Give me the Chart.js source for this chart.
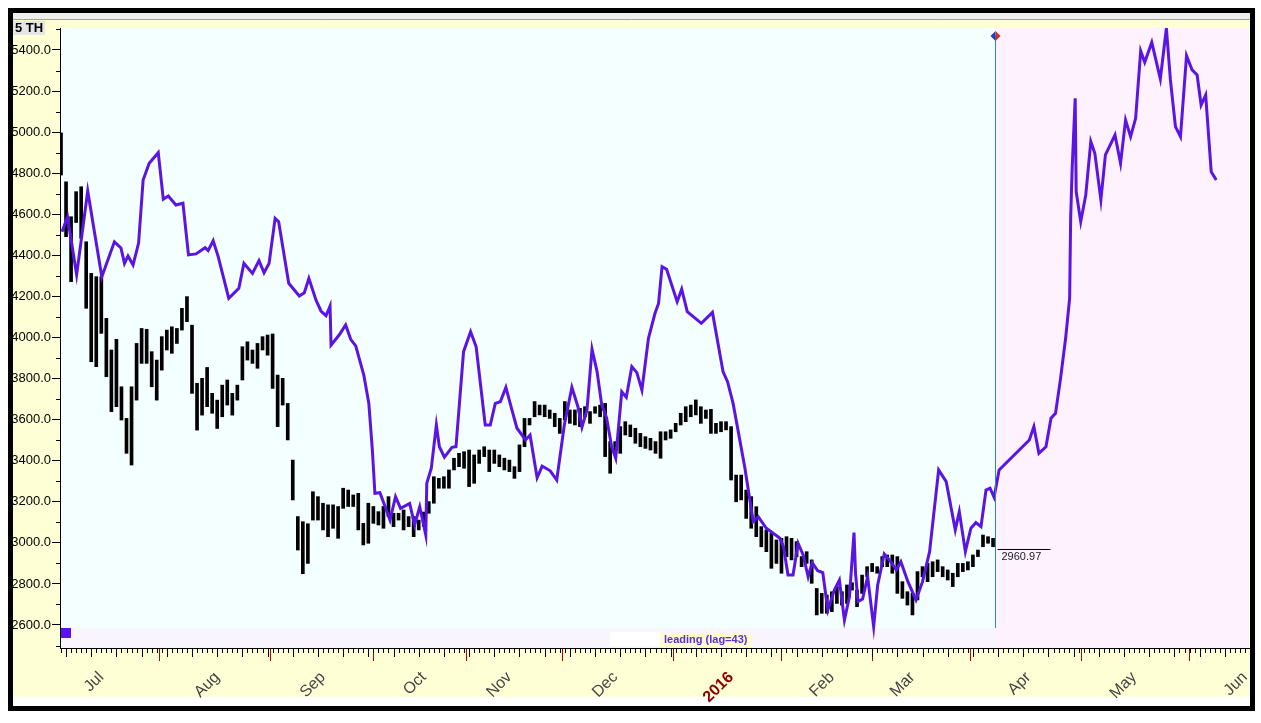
<!DOCTYPE html>
<html>
<head>
<meta charset="utf-8">
<style>
  html, body { margin: 0; padding: 0; background: #fff; }
  #wrap { width: 1261px; height: 723px; }
</style>
<script src="https://cdn.jsdelivr.net/npm/chart.js@4.4.1/dist/chart.umd.min.js"></script>
</head>
<body>
<div id="wrap"><canvas id="chart" width="1261" height="723"></canvas></div>
<script>
// trading-day index, 0 = 1 Jul 2015
const monthDays = [0, 23, 44, 64, 81, 102, 125, 145, 161, 184, 205, 227];
const monthLabels = ['Jul', 'Aug', 'Sep', 'Oct', 'Nov', 'Dec', '2016', 'Feb', 'Mar', 'Apr', 'May', 'Jun'];
const yTickValues = [2600, 2800, 3000, 3200, 3400, 3600, 3800, 4000, 4200, 4400, 4600, 4800, 5000, 5200, 5400];

// price bars (high / low), one per trading day starting at barStartDay
const barStartDay = -8;
const barHighs = [
  4996, 4758, 4588, 4710, 4734, 4466, 4312, 4296, 4296, 4093,
  3939, 3991, 3760, 3606, 3760, 3971, 4044, 4040, 3931, 3890,
  4004, 4036, 4052, 4044, 4142, 4199, 4060, 3777, 3801, 3854,
  3728, 3695, 3768, 3793, 3728, 3768, 3955, 3979, 3939, 3971,
  4004, 4012, 4017, 3817, 3801, 3679, 3403, 3128, 3103, 3093,
  3249, 3225, 3193, 3185, 3185, 3177, 3266, 3257, 3233, 3241,
  3095, 3193, 3177, 3152, 3177, 3225, 3144, 3144, 3160, 3128,
  3128, 3111, 3150, 3201, 3322, 3314, 3322, 3355, 3412, 3436,
  3444, 3452, 3428, 3452, 3468, 3452, 3452, 3428, 3412, 3403,
  3371, 3477, 3606, 3606, 3688, 3671, 3671, 3647, 3631, 3606,
  3688, 3647, 3647, 3655, 3663, 3639, 3663, 3671, 3679, 3493,
  3493, 3566, 3590, 3574, 3558, 3533, 3517, 3509, 3493, 3541,
  3541, 3550, 3582, 3631, 3663, 3671, 3696, 3663, 3647, 3650,
  3582, 3590, 3590, 3566, 3330, 3330, 3257, 3225, 3176, 3079,
  3063, 3046, 3014, 3022, 3030, 3022, 3006, 2933, 2957, 2917,
  2778, 2754, 2746, 2762, 2787, 2762, 2795, 2806, 2770, 2843,
  2884, 2900, 2884, 2933, 2941, 2941, 2933, 2811, 2762, 2754,
  2860, 2884, 2900, 2908, 2917, 2884, 2868, 2852, 2900, 2900,
  2908, 2941, 2965, 3038, 3030, 3022
];
const barLows = [
  4791, 4491, 4272, 4560, 4483, 4142, 3882, 3858, 4020, 3809,
  3639, 3663, 3598, 3436, 3379, 3695, 3874, 3874, 3760, 3695,
  3841, 3939, 3923, 3971, 4036, 4077, 3728, 3549, 3622, 3663,
  3631, 3557, 3614, 3671, 3622, 3695, 3793, 3890, 3874, 3850,
  3939, 3914, 3752, 3566, 3671, 3501, 3209, 2965, 2850, 2900,
  3111, 3111, 3063, 3030, 3071, 3022, 3168, 3177, 3177, 3063,
  2990, 2998, 3095, 3087, 3071, 3128, 3079, 3111, 3063, 3079,
  3030, 3063, 3080, 3144, 3193, 3266, 3266, 3266, 3355, 3371,
  3363, 3274, 3290, 3387, 3420, 3347, 3387, 3371, 3355, 3347,
  3314, 3347, 3468, 3574, 3614, 3623, 3614, 3606, 3566, 3533,
  3598, 3582, 3574, 3566, 3614, 3582, 3631, 3614, 3420, 3339,
  3436, 3436, 3525, 3517, 3485, 3468, 3460, 3452, 3436, 3412,
  3501, 3509, 3541, 3574, 3590, 3614, 3623, 3582, 3606, 3533,
  3533, 3541, 3550, 3306, 3200, 3209, 3119, 3071, 3030, 2981,
  2957, 2876, 2900, 2852, 2933, 2917, 2933, 2884, 2900, 2803,
  2649, 2657, 2657, 2665, 2705, 2697, 2705, 2770, 2689, 2754,
  2835, 2860, 2852, 2884, 2884, 2852, 2754, 2730, 2697, 2649,
  2722, 2835, 2811, 2835, 2860, 2835, 2819, 2787, 2835, 2860,
  2868, 2884, 2933, 2981, 2998, 2981
];
const lastClose = 2960.97;

// leading line (lag=43)
const leadDays = [
  -7.8, -6.7, -4.9, -2.7, 0.1, 2.6, 3.9, 4.6, 5.3, 6.3,
  7.4, 8.3, 9.5, 11.3, 12.3, 13.3, 14.8, 16.2, 17.3, 18.8,
  20.6, 21.2, 22.2, 23.2, 25.3, 27.3, 28.3, 30.0, 31.3, 32.3,
  33.3, 34.5, 35.2, 37.2, 39.3, 40.3, 41.2, 42.6, 43.6, 44.6,
  45.4, 45.6, 47.2, 48.5, 49.5, 50.5, 52.1, 53.1, 53.8, 54.3,
  55.3, 56.1, 57.3, 58.4, 59.4, 61.2, 62.2, 63.2, 64.4, 64.6,
  65.5, 66.5, 67.1, 68.1, 69.6, 70.4, 71.9, 73.3, 74.4, 76.2,
  77.2, 78.2, 79.2, 80.3, 81.5, 82.5, 84.2, 85.1, 86.5, 87.5,
  89.1, 90.4, 91.9, 93.4, 94.6, 95.4, 96.4, 97.4, 98.4, 99.3,
  100.3, 101.3, 102.1, 103.3, 104.2, 105.3, 106.3, 107.3, 108.6, 109.9,
  110.6, 111.3, 112.2, 114.3, 115.2, 116.3, 119.1, 121.3, 123.4, 124.3,
  125.4, 127.7, 129.4, 130.4, 132.0, 134.7, 135.4, 136.3, 137.3, 138.3,
  139.3, 140.3, 141.1, 142.2, 143.2, 144.2, 145.5, 146.5, 147.5, 148.5,
  149.4, 149.7, 150.2, 151.1, 152.1, 153.3, 154.1, 155.4, 156.4, 157.8,
  158.7, 160.1, 161.7, 163.0, 164.4, 166.2, 167.7, 169.5, 170.3, 171.5,
  172.6, 173.6, 174.6, 175.6, 176.4, 177.2, 178.2, 184.2, 185.1, 186.1,
  187.5, 188.5, 189.4, 190.4, 191.4, 192.2, 192.4, 192.7, 193.3, 193.5,
  194.4, 195.4, 196.4, 197.2, 198.4, 199.3, 201.2, 202.3, 203.3, 204.3,
  205.3, 206.3, 207.1, 208.5, 210.2, 211.4, 212.2, 213.2, 214.2, 215.4,
  216.5, 217.5, 218.3, 219.2, 220.3, 221.3
];
const leadValues = [
  4515, 4587, 4305, 4713, 4296, 4466, 4436, 4361, 4397, 4353,
  4460, 4767, 4848, 4900, 4673, 4689, 4645, 4654, 4402, 4407,
  4437, 4423, 4471, 4394, 4191, 4240, 4361, 4312, 4374, 4315,
  4361, 4580, 4564, 4264, 4202, 4218, 4288, 4183, 4129, 4106,
  4153, 3963, 4012, 4061, 3991, 3959, 3817, 3679, 3452, 3241,
  3244, 3192, 3111, 3225, 3168, 3192, 3087, 3176, 3038, 3290,
  3363, 3574, 3468, 3417, 3465, 3468, 3931, 4028, 3955, 3574,
  3574, 3679, 3687, 3757, 3647, 3558, 3501, 3525, 3317, 3374,
  3351, 3306, 3574, 3757, 3663, 3563, 3647, 3943, 3834, 3676,
  3607, 3468, 3412, 3736, 3709, 3858, 3829, 3744, 3996, 4118,
  4166, 4345, 4332, 4174, 4235, 4126, 4069, 4122, 3834, 3785,
  3679, 3371, 3103, 3127, 3071, 3022, 2981, 2843, 2843, 2998,
  2941, 2835, 2903, 2864, 2855, 2673, 2770, 2819, 2624, 2738,
  3050, 2852, 2714, 2726, 2835, 2592, 2795, 2946, 2917, 2868,
  2908, 2811, 2722, 2811, 2957, 3355, 3298, 3063, 3152, 2957,
  3071, 3099, 3079, 3257, 3266, 3222, 3355, 3501, 3566, 3436,
  3468, 3607, 3631, 3801, 3996, 4191, 4580, 4824, 5165, 4710,
  4564, 4694, 4954, 4897, 4670, 4889, 4986, 4848, 5059, 4978,
  5067, 5395, 5340, 5437, 5259, 5506, 5254, 5027, 4978, 5372,
  5303, 5278, 5132, 5181, 4807, 4767
];

const LEAD_COLOR = '#5A14E6';
const lastBarDay = barStartDay + barHighs.length - 1;
const splitDay = lastBarDay + 0.4;

const barData = barHighs.map((h, i) => ({ x: barStartDay + i, y: [barLows[i], h] }));
const leadData = leadDays.map((d, i) => ({ x: d, y: leadValues[i] }));

Chart.defaults.font.family = '"Liberation Sans", Arial, sans-serif';

const decor = {
  id: 'decor',
  beforeDraw(chart) {
    const ctx = chart.ctx, a = chart.chartArea, xs = chart.scales.x;
    const split = xs.getPixelForValue(splitDay);
    ctx.save();
    ctx.fillStyle = '#ffffff';
    ctx.fillRect(0, 0, chart.width, chart.height);
    ctx.fillStyle = '#FFFFD6';
    ctx.fillRect(13, 13, 1237, 684);
    ctx.fillStyle = '#EFEFEF';
    ctx.fillRect(13, 13, 1237, 7);
    ctx.strokeStyle = '#A0A0A0';
    ctx.lineWidth = 1;
    ctx.beginPath(); ctx.moveTo(13, 19.5); ctx.lineTo(1250, 19.5); ctx.stroke();
    ctx.fillStyle = '#F4FFFF';
    ctx.fillRect(a.left, a.top, split - a.left, a.bottom - a.top - 20);
    ctx.fillStyle = '#F8F5FF';
    ctx.fillRect(a.left, a.bottom - 20, split - a.left, 20);
    ctx.fillStyle = '#FFF2FF';
    ctx.fillRect(split, a.top, a.right - split, a.bottom - a.top);
    ctx.restore();
  },
  afterDatasetsDraw(chart) {
    const ctx = chart.ctx, a = chart.chartArea, xs = chart.scales.x, ys = chart.scales.y;
    const split = Math.round(xs.getPixelForValue(splitDay)) + 0.5;
    ctx.save();
    // forecast divider
    ctx.strokeStyle = '#2E8B9A';
    ctx.lineWidth = 1;
    ctx.beginPath(); ctx.moveTo(split, a.top + 8); ctx.lineTo(split, a.bottom - 20); ctx.stroke();
    // diamond marker
    const dy = a.top + 8;
    ctx.fillStyle = '#1F3FC8';
    ctx.beginPath(); ctx.moveTo(split, dy - 5); ctx.lineTo(split - 5, dy); ctx.lineTo(split, dy + 5); ctx.closePath(); ctx.fill();
    ctx.fillStyle = '#C8302A';
    ctx.beginPath(); ctx.moveTo(split, dy - 5); ctx.lineTo(split + 5, dy); ctx.lineTo(split, dy + 5); ctx.closePath(); ctx.fill();
    // last close label
    const cy = Math.round(ys.getPixelForValue(lastClose)) - 1.5;
    ctx.strokeStyle = '#000';
    ctx.beginPath(); ctx.moveTo(split + 2, cy); ctx.lineTo(split + 55, cy); ctx.stroke();
    ctx.fillStyle = '#222';
    ctx.font = '11px "Liberation Sans", Arial, sans-serif';
    ctx.textBaseline = 'top';
    ctx.fillText(lastClose.toFixed(2), split + 6, cy + 2);
    // legend square
    ctx.fillStyle = LEAD_COLOR;
    ctx.fillRect(a.left + 1, a.bottom - 20, 10, 10);
    // lag caption
    ctx.fillStyle = '#ffffff';
    ctx.fillRect(610, a.bottom - 16, 50, 14);
    ctx.fillStyle = '#FFFBD0';
    ctx.fillRect(660, a.bottom - 15, 92, 14);
    ctx.fillStyle = '#5A2ED8';
    ctx.font = 'bold 11px "Liberation Sans", Arial, sans-serif';
    ctx.textBaseline = 'middle';
    ctx.fillText('leading (lag=43)', 664, a.bottom - 8);
    ctx.restore();
  },
  afterDraw(chart) {
    const ctx = chart.ctx, a = chart.chartArea, xs = chart.scales.x, ys = chart.scales.y;
    ctx.save();
    ctx.strokeStyle = '#000';
    ctx.lineWidth = 1;
    // daily ticks on the time axis
    ctx.beginPath();
    for (let d = Math.ceil(xs.min); d <= xs.max; d++) {
      const px = Math.round(xs.getPixelForValue(d)) + 0.5;
      const len = ((d - 3) % 5 === 0) ? 9 : 5;
      ctx.moveTo(px, a.bottom); ctx.lineTo(px, a.bottom + len);
    }
    ctx.stroke();
    // minor value ticks
    ctx.beginPath();
    for (let v = 2500; v <= 5500; v += 200) {
      const py = Math.round(ys.getPixelForValue(v)) + 0.5;
      ctx.moveTo(a.left - 4, py); ctx.lineTo(a.left, py);
    }
    ctx.stroke();
    // title box
    ctx.fillStyle = '#E6E6E6';
    ctx.fillRect(13, 21, 32, 14);
    ctx.fillStyle = '#000';
    ctx.font = 'bold 13px "Liberation Sans", Arial, sans-serif';
    ctx.textBaseline = 'middle';
    ctx.fillText('5 TH', 15, 28.5);
    // outer frame
    ctx.strokeStyle = '#000';
    ctx.lineWidth = 5;
    ctx.strokeRect(10.5, 10.5, 1242, 698);
    ctx.restore();
  }
};

new Chart(document.getElementById('chart'), {
  type: 'bar',
  data: {
    datasets: [
      {
        type: 'line',
        label: 'leading (lag=43)',
        data: leadData,
        borderColor: LEAD_COLOR,
        borderWidth: 3,
        pointRadius: 0,
        tension: 0,
        order: 0
      },
      {
        type: 'bar',
        label: '5 TH',
        data: barData,
        backgroundColor: '#000',
        barThickness: 3,
        order: 1
      }
    ]
  },
  options: {
    responsive: false,
    animation: false,
    devicePixelRatio: 1,
    layout: { padding: { top: 28, right: 12, bottom: 0, left: 0 } },
    plugins: { legend: { display: false }, tooltip: { enabled: false } },
    scales: {
      x: {
        type: 'linear',
        min: -8.2,
        max: 227.8,
        offset: false,
        afterBuildTicks: s => { s.ticks = monthDays.map(v => ({ value: v })); },
        afterFit: s => { s.height = 75; s.paddingLeft = 0; s.paddingRight = 0; },
        grid: { drawOnChartArea: false, tickLength: 13, tickColor: '#C00000', tickWidth: 1 },
        border: { color: '#000', width: 1 },
        ticks: {
          autoSkip: false,
          minRotation: 45,
          maxRotation: 45,
          padding: 7,
          callback: v => monthLabels[monthDays.indexOf(v)] || '',
          color: c => (c.tick && c.tick.label === '2016') ? '#8B0000' : '#444',
          font: c => ({ size: 16, weight: (c.tick && c.tick.label === '2016') ? 'bold' : 'normal' })
        }
      },
      y: {
        min: 2488,
        max: 5507,
        afterBuildTicks: s => { s.ticks = yTickValues.map(v => ({ value: v })); },
        afterFit: s => { s.width = 60; s.paddingTop = 0; s.paddingBottom = 0; },
        grid: { drawOnChartArea: false, tickLength: 8, tickColor: '#000' },
        border: { color: '#000', width: 1 },
        ticks: {
          padding: 1,
          color: '#000',
          font: { size: 13 },
          callback: v => Number(v).toFixed(1)
        }
      }
    }
  },
  plugins: [decor]
});
</script>
</body>
</html>
